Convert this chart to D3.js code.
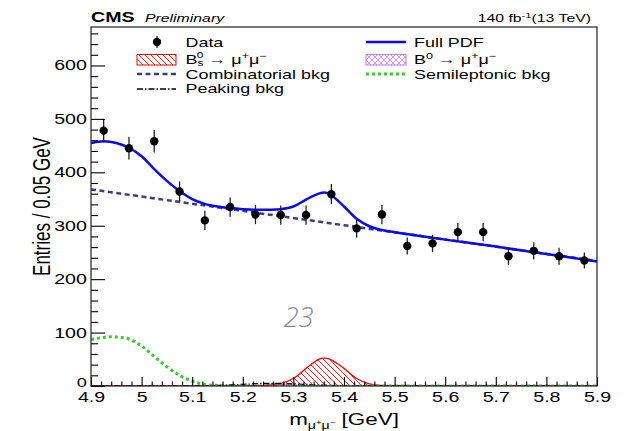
<!DOCTYPE html>
<html><head><meta charset="utf-8">
<script src="https://cdn.jsdelivr.net/npm/d3@7"></script>
<style>body{margin:0;background:#fff}</style>
</head><body>
<svg id="c" width="626" height="431"></svg>
<script>
// ---------------- data ----------------
const dataMass   = [4.925,4.975,5.025,5.075,5.125,5.175,5.225,5.275,5.325,5.375,5.425,5.475,5.525,5.575,5.625,5.675,5.725,5.775,5.825,5.875];
const dataCounts = [478,445,458,364,310,335,321,320,320,359,295,321,262,267,288,288,243,253,243,235];
const dataErrors = [22,21,21,19,18,18,18,18,18,19,17,18,16,16,17,17,16,16,16,15];

const fullMass = [4.9,4.925,4.95,4.975,5.0,5.025,5.05,5.075,5.1,5.125,5.15,5.175,5.2,5.225,5.25,5.275,5.3,5.325,5.35,5.3625,5.375,5.4,5.425,5.45,5.475,5.5,5.6,5.7,5.8,5.9];
const fullVals = [455,458,455,446,430,406,384,365,350,341,336,333,331,330,330,331,336,349,360,362,357,336,313,299,292,288,274,261,247,233];

const combMass = [4.9,5.4,5.9];
const combVals = [368,301,234];

const slMass = [4.9,4.925,4.94,4.96,4.975,5.0,5.025,5.05,5.075,5.1,5.125,5.15,5.175,5.2,5.5,5.9];
const slVals = [87,91,92,91,88,75,55,36,20,9,3,1,0,0,0,0];

const bsMass = [4.9,5.2,5.225,5.25,5.275,5.3,5.325,5.35,5.3625,5.375,5.4,5.425,5.45,5.475,5.5,5.9];
const bsVals = [0,0,0.5,2,5,14,33,50,52,49,33,14,4,1,0,0];

const b0Mass = [4.9,5.2,5.25,5.28,5.31,5.35,5.4,5.9];
const b0Vals = [0,0,1.5,3,1.5,0.3,0,0];

const peakMass = [4.9,5.1,5.15,5.2,5.25,5.3,5.35,5.4,5.45,5.9];
const peakVals = [0,0,1,3,5,4,2,0.5,0,0];

const xTicks = [4.9,5,5.1,5.2,5.3,5.4,5.5,5.6,5.7,5.8,5.9];
const xTickLabels = ["4.9","5","5.1","5.2","5.3","5.4","5.5","5.6","5.7","5.8","5.9"];
const yTicks = [0,100,200,300,400,500,600];

// ---------------- drawing ----------------
const SX = 1.4;
const FONT = "'Liberation Sans', Arial, Helvetica, sans-serif";
const svg = d3.select('#c');
const L = 91, R = 597, T = 27, B = 386;
const x = d3.scaleLinear().domain([4.9,5.9]).range([L,R]);
const y = d3.scaleLinear().domain([0,672]).range([B,T]);

const defs = svg.append('defs');
const p1 = defs.append('pattern').attr('id','bsHatch').attr('patternUnits','userSpaceOnUse').attr('width',6).attr('height',6);
p1.append('path').attr('d','M0,0L6,6M-1,5L1,7M5,-1L7,1').attr('stroke','#ff0000').attr('stroke-width',0.9);
const p2 = defs.append('pattern').attr('id','b0Hatch').attr('patternUnits','userSpaceOnUse').attr('width',6).attr('height',6);
p2.append('path').attr('d','M0,0L6,6M6,0L0,6').attr('stroke','#cc77ff').attr('stroke-width',0.8);
defs.append('clipPath').attr('id','frame').append('rect').attr('x',L).attr('y',T).attr('width',R-L).attr('height',B-T);

function stext(parent, tx, ty, size, anchor, str, opts={}) {
  const g = parent.append('g').attr('transform',`translate(${tx},${ty}) scale(${SX},1)` + (opts.rot ? ` rotate(${opts.rot})` : ''));
  const t = g.append('text').attr('font-family',FONT).attr('font-size',size).attr('text-anchor',anchor).attr('fill',opts.fill||'#000');
  if (opts.weight) t.attr('font-weight',opts.weight);
  if (opts.style) t.attr('font-style',opts.style);
  if (str !== null) t.text(str);
  return t;
}

svg.append('rect').attr('x',L).attr('y',T).attr('width',R-L).attr('height',B-T).attr('fill','#fff');

const plot = svg.append('g').attr('clip-path','url(#frame)');
const mk = (ms, vs) => ms.map((m,i)=>[m,vs[i]]);
const line = d3.line().x(d=>x(d[0])).y(d=>y(d[1])).curve(d3.curveMonotoneX);
const sline = d3.line().x(d=>x(d[0])).y(d=>y(d[1])).curve(d3.curveCatmullRom.alpha(0.5));
const sarea = d3.area().x(d=>x(d[0])).y0(y(0)).y1(d=>y(d[1])).curve(d3.curveCatmullRom.alpha(0.5));

plot.append('path').attr('d',sarea(mk(b0Mass,b0Vals))).attr('fill','url(#b0Hatch)');
plot.append('path').attr('d',sline(mk(b0Mass,b0Vals))).attr('fill','none').attr('stroke','#cc77ff').attr('stroke-width',1.2);
plot.append('path').attr('d',sarea(mk(bsMass,bsVals))).attr('fill','url(#bsHatch)');
plot.append('path').attr('d',sline(mk(bsMass,bsVals))).attr('fill','none').attr('stroke','#ff0000').attr('stroke-width',1.3);
plot.append('path').attr('d',line(mk(peakMass,peakVals))).attr('fill','none').attr('stroke','#000').attr('stroke-width',1.3).attr('stroke-dasharray','6,2,1.5,2');
plot.append('path').attr('d',line(mk(slMass,slVals))).attr('fill','none').attr('stroke','#33cc33').attr('stroke-width',3).attr('stroke-dasharray','3,3');
plot.append('path').attr('d',line(mk(combMass,combVals))).attr('fill','none').attr('stroke','#3d3d80').attr('stroke-width',2.5).attr('stroke-dasharray','5,3.5');
plot.append('path').attr('d',sline(mk(fullMass,fullVals))).attr('fill','none').attr('stroke','#0a0af0').attr('stroke-width',2.5);

const pts = svg.append('g');
dataMass.forEach((m,i)=>{
  pts.append('line').attr('x1',x(m)).attr('x2',x(m)).attr('y1',y(dataCounts[i]-dataErrors[i])).attr('y2',y(dataCounts[i]+dataErrors[i]))
    .attr('stroke','#222').attr('stroke-width',1.3);
  pts.append('circle').attr('cx',x(m)).attr('cy',y(dataCounts[i])).attr('r',4.2).attr('fill','#000');
});

function styleAxis(g){ g.select('.domain').remove(); g.selectAll('line').attr('stroke','#000').attr('stroke-width',1.1); }
const yMinor = d3.range(0,672,20).filter(v=>v%100!==0);
const gy = svg.append('g').attr('transform',`translate(${L},0)`)
  .call(d3.axisLeft(y).tickValues(yTicks).tickSize(-14).tickSizeOuter(0).tickPadding(3).tickFormat(d3.format('d')));
styleAxis(gy);
gy.selectAll('text').attr('font-family',FONT).attr('font-size',14).attr('fill','#000').attr('transform',`scale(${SX},1)`);
gy.selectAll('.tick').filter(d=>d===0).select('text').attr('font-size',13).attr('dy','0.05em');
const gy2 = svg.append('g').attr('transform',`translate(${L},0)`).call(d3.axisLeft(y).tickValues(yMinor).tickSize(-7).tickSizeOuter(0).tickFormat(''));
styleAxis(gy2);

const xMinor = d3.range(0,51).map(i=>4.9+i*0.02).filter((v,i)=>i%5!==0);
const gx = svg.append('g').attr('transform',`translate(0,${B})`)
  .call(d3.axisBottom(x).tickValues(xTicks).tickSize(-9).tickSizeOuter(0).tickPadding(6.5).tickFormat((d,i)=>xTickLabels[i]));
styleAxis(gx);
gx.selectAll('text').attr('font-family',FONT).attr('font-size',14).attr('fill','#000').attr('transform',`scale(${SX},1)`);
const gx2 = svg.append('g').attr('transform',`translate(0,${B})`).call(d3.axisBottom(x).tickValues(xMinor).tickSize(-4.5).tickSizeOuter(0).tickFormat(''));
styleAxis(gx2);

svg.append('rect').attr('x',L).attr('y',T).attr('width',R-L).attr('height',B-T).attr('fill','none').attr('stroke','#222').attr('stroke-width',1.2);

stext(svg, L, 22, 14, 'start', 'CMS', {weight:'bold'});
stext(svg, 145, 22, 11.3, 'start', 'Preliminary', {style:'italic'});
const lum = stext(svg, 591, 22, 11.3, 'end', null);
lum.append('tspan').text('140 fb');
lum.append('tspan').attr('font-size',8).attr('dy',-4.5).text('-1');
lum.append('tspan').attr('dy',4.5).text('(13 TeV)');

stext(svg, 50, 206.5, 17, 'middle', 'Entries / 0.05 GeV', {rot:-90});
const xt = stext(svg, 344, 425, 16, 'middle', null);
xt.append('tspan').text('m');
xt.append('tspan').attr('font-size',10).attr('dy',4).text('μ');
xt.append('tspan').attr('font-size',7).attr('dy',-4).text('+');
xt.append('tspan').attr('font-size',10).attr('dy',4).text('μ');
xt.append('tspan').attr('font-size',7).attr('dy',-4).text('−');
xt.append('tspan').attr('dy',0).text(' [GeV]');

const lg = svg.append('g');
lg.append('line').attr('x1',157).attr('x2',157).attr('y1',36).attr('y2',48).attr('stroke','#222').attr('stroke-width',1.3);
lg.append('circle').attr('cx',157).attr('cy',42).attr('r',4.2).attr('fill','#000');
stext(lg, 185.5, 46.7, 12.8, 'start', 'Data');
lg.append('line').attr('x1',366).attr('x2',406).attr('y1',42).attr('y2',42).attr('stroke','#0a0af0').attr('stroke-width',2.5);
stext(lg, 414, 46.7, 12.8, 'start', 'Full PDF');

lg.append('rect').attr('x',137).attr('y',54.5).attr('width',39).attr('height',10.5).attr('fill','url(#bsHatch)').attr('stroke','#ff0000').attr('stroke-width',1);
const bst = stext(lg, 185.5, 63.5, 12.8, 'start', null);
bst.append('tspan').text('B');
bst.append('tspan').attr('font-size',8.5).attr('dy',2).text('s');
bst.append('tspan').attr('font-size',8.5).attr('dx',-4.7).attr('dy',-8).text('0');
bst.append('tspan').attr('dy',6).text(' → μ');
bst.append('tspan').attr('font-size',9).attr('dy',-5).text('+');
bst.append('tspan').attr('dy',5).text('μ');
bst.append('tspan').attr('font-size',9).attr('dy',-5).text('−');

lg.append('rect').attr('x',366).attr('y',54.5).attr('width',40).attr('height',10.5).attr('fill','url(#b0Hatch)').attr('stroke','#cc77ff').attr('stroke-width',1);
const b0t = stext(lg, 414, 63.5, 12.8, 'start', null);
b0t.append('tspan').text('B');
b0t.append('tspan').attr('font-size',9).attr('dy',-5).text('0');
b0t.append('tspan').attr('dy',5).text(' → μ');
b0t.append('tspan').attr('font-size',9).attr('dy',-5).text('+');
b0t.append('tspan').attr('dy',5).text('μ');
b0t.append('tspan').attr('font-size',9).attr('dy',-5).text('−');

lg.append('line').attr('x1',137).attr('x2',176).attr('y1',74).attr('y2',74).attr('stroke','#3d3d80').attr('stroke-width',2.5).attr('stroke-dasharray','5,3.5');
stext(lg, 185.5, 78.5, 12.8, 'start', 'Combinatorial bkg');
lg.append('line').attr('x1',366).attr('x2',406).attr('y1',74).attr('y2',74).attr('stroke','#33cc33').attr('stroke-width',3).attr('stroke-dasharray','3,3');
stext(lg, 414, 78.5, 12.8, 'start', 'Semileptonic bkg');

lg.append('line').attr('x1',137).attr('x2',176).attr('y1',89).attr('y2',89).attr('stroke','#000').attr('stroke-width',1.3).attr('stroke-dasharray','6,2,1.5,2');
stext(lg, 185.5, 93.3, 12.8, 'start', 'Peaking bkg');

svg.append('text').attr('x',298.5).attr('y',327).attr('text-anchor','middle').attr('font-family',"'Open Sans', 'DejaVu Sans', sans-serif")
  .attr('font-weight',300).attr('font-style','italic').attr('font-size',27).attr('fill','#8a8a8a').text('23');
</script>
</body></html>
